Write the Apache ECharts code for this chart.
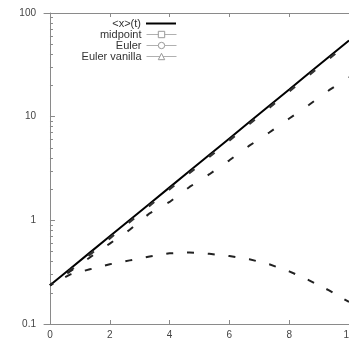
<!DOCTYPE html>
<html>
	<head>
		<meta charset="utf-8" />
		<title>euler</title>
		<script src="https://cdn.jsdelivr.net/npm/echarts@6/dist/echarts.min.js"></script>
		<style>
			body { margin: 0; background: #fff; }
			#chart { width: 349px; height: 341px; }
		</style>
	</head>
	<body>
		<div id="chart"></div>
	<script type="text/javascript">
		// time samples
		var t = [0, 0.667, 1.333, 2, 2.667, 3.333, 4, 4.667, 5.333, 6, 6.667, 7.333, 8, 8.667, 9.333, 10];
		// <x>(t)
		var exact = [0.236, 0.339, 0.488, 0.701, 1.007, 1.447, 2.08, 2.989, 4.295, 6.17, 8.87, 12.75, 18.32, 26.33, 37.84, 54.4];
		// midpoint
		var midpoint = [0.236, 0.326, 0.468, 0.673, 0.967, 1.39, 2.0, 2.87, 4.12, 5.92, 8.52, 12.24, 17.6, 25.3, 36.3, 52.2];
		// Euler
		var euler = [0.236, 0.321, 0.438, 0.596, 0.811, 1.17, 1.503, 2.1, 2.786, 3.793, 5.25, 7.03, 9.6, 13.03, 18.0, 24.0];
		// Euler vanilla
		var vanilla = [0.236, 0.3, 0.337, 0.377, 0.411, 0.447, 0.481, 0.49, 0.475, 0.452, 0.421, 0.377, 0.322, 0.264, 0.211, 0.163];
		var xTicks = [0, 2, 4, 6, 8, 10];
		var yMajor = [0.1, 1, 10, 100];
		var yMinor = [0.2, 0.3, 0.4, 0.5, 0.6, 0.7, 0.8, 0.9, 2, 3, 4, 5, 6, 7, 8, 9, 20, 30, 40, 50, 60, 70, 80, 90];

		function pairs(ys) {
			return t.map(function (x, i) { return [x, ys[i]]; });
		}

		var axisColor = '#8a8a8a';
		var myChart = echarts.init(document.getElementById('chart'), null, {renderer: 'canvas'});

		function legendAt(name, top, sym) {
			var item = {name: name};
			if (sym) {
				item.lineStyle = {color: '#b0b0b0', width: 1, type: 'solid'};
				item.itemStyle = {color: '#fff', borderColor: '#999', borderWidth: 1};
			} else {
				item.lineStyle = {color: '#000', width: 2, type: 'solid'};
				item.itemStyle = {opacity: 0};
			}
			return {
				data: [item],
				right: 172,
				top: top,
				align: 'right',
				itemWidth: 30,
				itemHeight: 8,
				selectedMode: false,
				padding: 0,
				textStyle: {fontSize: 11, color: '#333', fontFamily: 'Liberation Sans', padding: [0, 0, 0, 0]}
			};
		}

		var option = {
			animation: false,
			backgroundColor: '#fff',
			grid: {left: 44, top: 13, height: 311, width: 311, outerBoundsMode: 'none', containLabel: false},
			legend: [
				legendAt('<x>(t)', 18, false),
				legendAt('midpoint', 29, true),
				legendAt('Euler', 40, true),
				legendAt('Euler vanilla', 51, true)
			],
			xAxis: [{
				type: 'value', min: -0.2, max: 10.2, position: 'bottom',
				axisLine: {show: true, lineStyle: {color: axisColor, width: 1}},
				axisTick: {show: true, inside: true, length: 4, customValues: xTicks, lineStyle: {color: axisColor}},
				axisLabel: {customValues: xTicks, margin: 6, fontSize: 10, color: '#444', fontFamily: 'Liberation Sans'},
				splitLine: {show: false}
			}, {
				type: 'value', min: -0.2, max: 10.2, position: 'top',
				axisLine: {show: true, lineStyle: {color: axisColor, width: 1}},
				axisTick: {show: true, inside: true, length: 4, customValues: xTicks, lineStyle: {color: axisColor}},
				axisLabel: {show: false},
				splitLine: {show: false}
			}],
			yAxis: [{
				type: 'log', logBase: 10, min: 0.1, max: 100, position: 'left',
				axisLine: {show: true, lineStyle: {color: axisColor, width: 1}},
				axisTick: {show: true, inside: true, length: 5, customValues: yMajor, lineStyle: {color: axisColor}},
				axisLabel: {customValues: yMajor, margin: 8, fontSize: 10, color: '#444', fontFamily: 'Liberation Sans',
					formatter: function (v) { return String(v); }},
				splitLine: {show: false}
			}, {
				type: 'log', logBase: 10, min: 0.1, max: 100, position: 'left',
				axisLine: {show: false},
				axisTick: {show: true, inside: true, length: 3, customValues: yMinor, lineStyle: {color: axisColor}},
				axisLabel: {show: false},
				splitLine: {show: false}
			}],
			series: [{
				name: '<x>(t)', type: 'line', data: pairs(exact),
				symbol: 'none', lineStyle: {color: '#000', width: 2}, itemStyle: {color: '#000'},
				z: 3
			}, {
				name: 'midpoint', type: 'line', data: pairs(midpoint),
				symbol: 'rect', symbolSize: 5, showSymbol: false,
				lineStyle: {color: '#333', width: 2.5, type: [7, 19], dashOffset: 3.5}, itemStyle: {color: '#333'},
				z: 4
			}, {
				name: 'Euler', type: 'line', data: pairs(euler),
				symbol: 'circle', symbolSize: 5, showSymbol: false,
				lineStyle: {color: '#222', width: 2, type: [7, 17.5], dashOffset: 3.5}, itemStyle: {color: '#222'},
				z: 4
			}, {
				name: 'Euler vanilla', type: 'line', data: pairs(vanilla),
				symbol: 'triangle', symbolSize: 5, showSymbol: false,
				lineStyle: {color: '#222', width: 2, type: [7, 13.8], dashOffset: 3.5}, itemStyle: {color: '#222'},
				z: 4
			}]
		};

		myChart.setOption(option);
	</script>
	</body>
</html>
